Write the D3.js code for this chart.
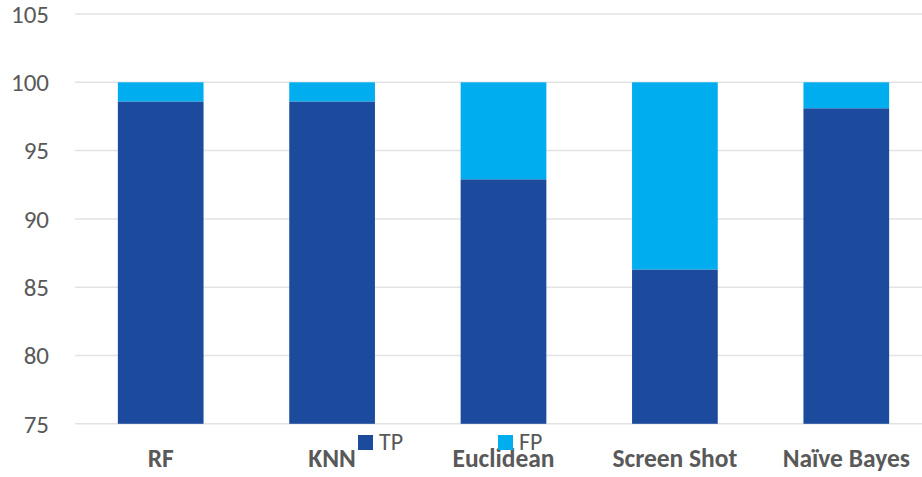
<!DOCTYPE html>
<html><head><meta charset="utf-8">
<script src="https://cdn.jsdelivr.net/npm/d3@7"></script>
<style>html,body{margin:0;padding:0;background:#fff;}</style>
</head><body>
<svg id="chart" width="922" height="477"></svg>
<script>
const categories = ["RF", "KNN", "Euclidean", "Screen Shot", "Naïve Bayes"];
const tpValues = [98.6, 98.6, 92.9, 86.3, 98.1];
const fpValues = [1.4, 1.4, 7.1, 13.7, 1.9];
const yTicks = [75, 80, 85, 90, 95, 100, 105];
const seriesNames = ["TP", "FP"];
const seriesColors = ["#1C4A9D", "#00AEEF"];

const svg = d3.select("#chart");
const font = "Carlito, Lato, 'Liberation Sans', sans-serif";
const x = d3.scaleBand().domain(categories).range([75, 932]).paddingInner(0.5).paddingOuter(0.25);
const y = d3.scaleLinear().domain([75, 105]).range([423.8, 14]);

// gridlines
svg.append("g").selectAll("line").data(yTicks).join("line")
  .attr("x1", 75).attr("x2", 922)
  .attr("y1", d => y(d)).attr("y2", d => y(d))
  .attr("stroke", "#e3e3e3").attr("stroke-width", 1.5);

// y tick labels
const yAxis = d3.axisLeft(y).tickValues(yTicks).tickSize(0).tickPadding(0);
const ya = svg.append("g").attr("transform", "translate(49,0)").call(yAxis);
ya.select(".domain").remove();
ya.selectAll("text").attr("font-family", font).attr("font-size", 25).attr("fill", "#595959").attr("dy", "0.33em");

// stacked data
const rows = categories.map((c, i) => ({cat: c, TP: tpValues[i], FP: fpValues[i]}));
const stack = d3.stack().keys(seriesNames)(rows);
const base = 75;
svg.append("g").selectAll("g").data(stack).join("g")
  .attr("fill", (d, i) => seriesColors[i])
  .selectAll("rect").data(d => d).join("rect")
  .attr("x", d => x(d.data.cat))
  .attr("width", x.bandwidth())
  .attr("y", d => y(d[1]))
  .attr("height", d => y(Math.max(d[0], base)) - y(d[1]));

// x labels
const xAxis = d3.axisBottom(x).tickSize(0).tickPadding(0);
const xa = svg.append("g").attr("transform", "translate(0,466.5)").call(xAxis);
xa.select(".domain").remove();
xa.selectAll("text").attr("font-family", font).attr("font-size", 25.5).attr("font-weight", "bold").attr("fill", "#595959").attr("dy", 0);

// legend
const legendX = [358, 498];
const lg = svg.append("g").selectAll("g").data(seriesNames).join("g")
  .attr("transform", (d, i) => `translate(${legendX[i]},435)`);
lg.append("rect").attr("width", 15).attr("height", 15).attr("fill", (d, i) => seriesColors[i]);
lg.append("text").attr("x", 21).attr("y", 15).text(d => d)
  .attr("font-family", font).attr("font-size", 24).attr("fill", "#595959");
</script>
</body></html>
